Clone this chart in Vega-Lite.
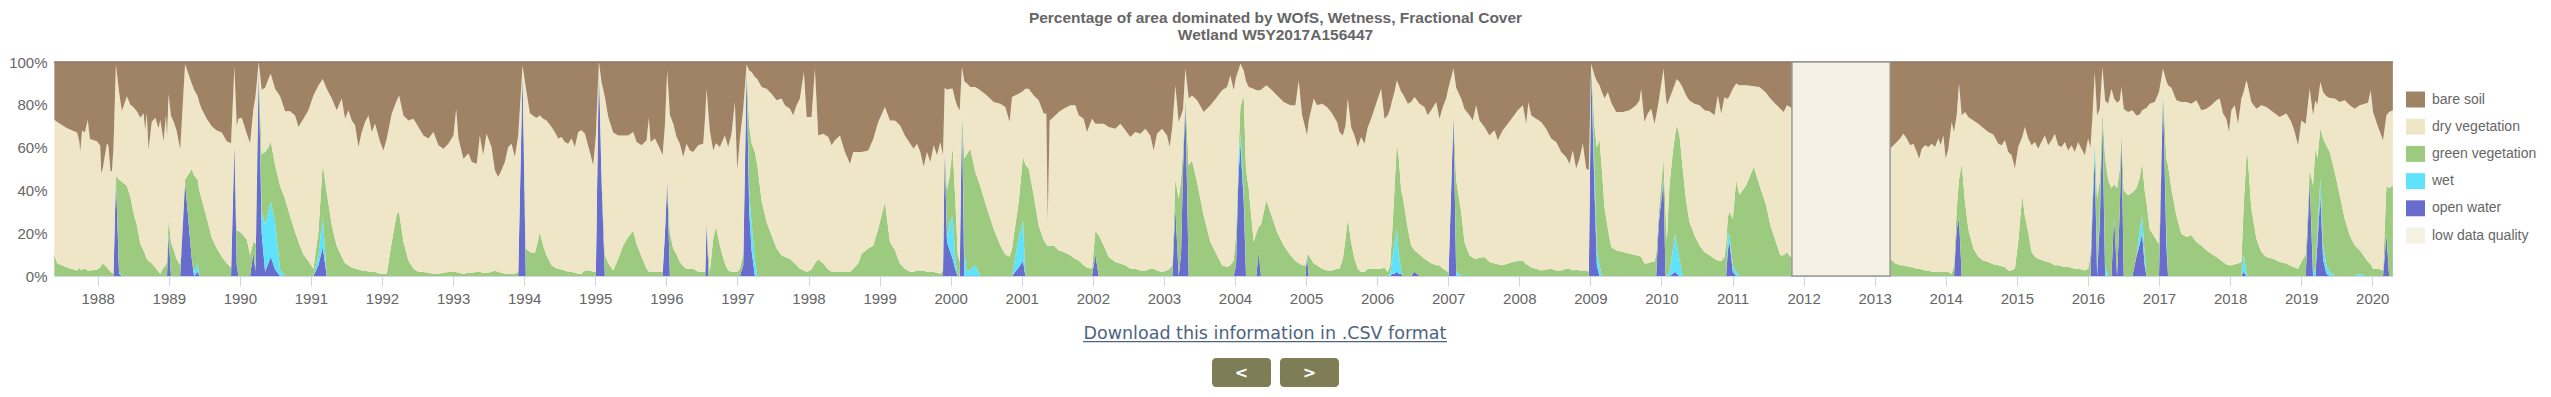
{
"$schema":"https://vega.github.io/schema/vega-lite/v6.json",
"width":2339,"height":214,
"autosize":{"type":"none"},
"padding":{"left":54,"top":62,"right":158,"bottom":121},
"background":"white",
"config":{"view":{"stroke":null},"font":"Liberation Sans",
"axis":{"title":null,"grid":false,"labelFontSize":15,"labelColor":"#666666","labelFont":"Liberation Sans"},
"axisX":{"tickSize":10,"tickColor":"#ccd6eb","domainColor":"#ccd6eb","labelPadding":5,"zindex":1,"labelFlush":false,"labelOverlap":false,"format":"d"},
"axisY":{"domain":false,"ticks":false,"labelPadding":7,"labelExpr":"datum.value + '%'"}},
"title":{"text":["Percentage of area dominated by WOfS, Wetness, Fractional Cover","Wetland W5Y2017A156447"],"fontSize":15.5,"fontWeight":"bold","color":"#666666","font":"Liberation Sans","anchor":"middle","dx":52,"offset":12,"lineHeight":16.5},
"layer":[
{"data":{"values":[
{"t":1987.39,"1ow":0,"2wt":0,"3gv":10,"4dv":63,"5bs":27},
{"t":1987.43,"1ow":0,"2wt":0,"3gv":6,"4dv":66,"5bs":28},
{"t":1987.57,"1ow":0,"2wt":0,"3gv":4,"4dv":65,"5bs":31},
{"t":1987.71,"1ow":0,"2wt":0,"3gv":2.6,"4dv":64.4,"5bs":33},
{"t":1987.74,"1ow":0,"2wt":0,"3gv":4,"4dv":59,"5bs":37},
{"t":1987.754,"1ow":0,"2wt":0,"3gv":3,"4dv":55,"5bs":42},
{"t":1987.78,"1ow":0,"2wt":0,"3gv":3,"4dv":65,"5bs":32},
{"t":1987.82,"1ow":0,"2wt":0,"3gv":3.4,"4dv":63.6,"5bs":33},
{"t":1987.86,"1ow":0,"2wt":0,"3gv":2.6,"4dv":70.4,"5bs":27},
{"t":1987.89,"1ow":0,"2wt":0,"3gv":2.6,"4dv":61.4,"5bs":36},
{"t":1987.99,"1ow":0,"2wt":0,"3gv":3,"4dv":60,"5bs":37},
{"t":1988.035,"1ow":0,"2wt":0,"3gv":4,"4dv":57,"5bs":39},
{"t":1988.05,"1ow":0,"2wt":0,"3gv":5,"4dv":43,"5bs":52},
{"t":1988.07,"1ow":0,"2wt":0,"3gv":5.8,"4dv":44.2,"5bs":50},
{"t":1988.13,"1ow":0,"2wt":0,"3gv":4,"4dv":58,"5bs":38},
{"t":1988.15,"1ow":0,"2wt":0,"3gv":3,"4dv":58,"5bs":39},
{"t":1988.18,"1ow":0,"2wt":0,"3gv":2,"4dv":47,"5bs":51},
{"t":1988.2,"1ow":0,"2wt":0,"3gv":1.5,"4dv":47.5,"5bs":51},
{"t":1988.222,"1ow":0,"2wt":0,"3gv":1,"4dv":59,"5bs":40},
{"t":1988.256,"1ow":46,"2wt":1,"3gv":0,"4dv":52,"5bs":1},
{"t":1988.3,"1ow":1,"2wt":1,"3gv":43,"4dv":41,"5bs":14},
{"t":1988.34,"1ow":0,"2wt":0,"3gv":44,"4dv":33,"5bs":23},
{"t":1988.41,"1ow":0,"2wt":0,"3gv":42,"4dv":42,"5bs":16},
{"t":1988.46,"1ow":0,"2wt":0,"3gv":37,"4dv":43,"5bs":20},
{"t":1988.5,"1ow":0,"2wt":0,"3gv":30,"4dv":49,"5bs":21},
{"t":1988.55,"1ow":0,"2wt":0,"3gv":24,"4dv":53,"5bs":23},
{"t":1988.6,"1ow":0,"2wt":0,"3gv":15,"4dv":59,"5bs":26},
{"t":1988.645,"1ow":0,"2wt":0,"3gv":12,"4dv":64,"5bs":24},
{"t":1988.668,"1ow":0,"2wt":0,"3gv":10,"4dv":58,"5bs":32},
{"t":1988.69,"1ow":0,"2wt":0,"3gv":8,"4dv":68,"5bs":24},
{"t":1988.715,"1ow":0,"2wt":0,"3gv":7,"4dv":52,"5bs":41},
{"t":1988.76,"1ow":0,"2wt":0,"3gv":6,"4dv":66,"5bs":28},
{"t":1988.81,"1ow":0,"2wt":0,"3gv":4,"4dv":70,"5bs":26},
{"t":1988.856,"1ow":0,"2wt":0,"3gv":2,"4dv":67,"5bs":31},
{"t":1988.88,"1ow":0,"2wt":0,"3gv":1,"4dv":72,"5bs":27},
{"t":1988.926,"1ow":0,"2wt":0,"3gv":4,"4dv":59,"5bs":37},
{"t":1988.96,"1ow":0,"2wt":0,"3gv":5,"4dv":70,"5bs":25},
{"t":1988.975,"1ow":0,"2wt":0,"3gv":8,"4dv":57,"5bs":35},
{"t":1988.997,"1ow":19,"2wt":1,"3gv":7,"4dv":58,"5bs":15},
{"t":1989.03,"1ow":0,"2wt":0,"3gv":16,"4dv":59,"5bs":25},
{"t":1989.07,"1ow":0,"2wt":0,"3gv":12,"4dv":60,"5bs":28},
{"t":1989.11,"1ow":0,"2wt":0,"3gv":8,"4dv":60,"5bs":32},
{"t":1989.16,"1ow":0,"2wt":0,"3gv":5,"4dv":54,"5bs":41},
{"t":1989.229,"1ow":44,"2wt":0,"3gv":1,"4dv":54,"5bs":1},
{"t":1989.323,"1ow":8,"2wt":0,"3gv":42,"4dv":40,"5bs":10},
{"t":1989.356,"1ow":0,"2wt":2,"3gv":45,"4dv":40,"5bs":13},
{"t":1989.407,"1ow":2,"2wt":4,"3gv":39,"4dv":39,"5bs":16},
{"t":1989.43,"1ow":0,"2wt":0,"3gv":40,"4dv":41,"5bs":19},
{"t":1989.463,"1ow":0,"2wt":0,"3gv":36,"4dv":42,"5bs":22},
{"t":1989.534,"1ow":0,"2wt":0,"3gv":27,"4dv":46.5,"5bs":26.5},
{"t":1989.604,"1ow":0,"2wt":0,"3gv":18,"4dv":52,"5bs":30},
{"t":1989.674,"1ow":0,"2wt":0,"3gv":13,"4dv":55,"5bs":32},
{"t":1989.745,"1ow":0,"2wt":0,"3gv":9,"4dv":58,"5bs":33},
{"t":1989.815,"1ow":0,"2wt":0,"3gv":6,"4dv":57,"5bs":37},
{"t":1989.876,"1ow":0,"2wt":0,"3gv":4,"4dv":58,"5bs":38},
{"t":1989.923,"1ow":62,"2wt":1,"3gv":1,"4dv":34,"5bs":2},
{"t":1989.956,"1ow":5,"2wt":0,"3gv":16,"4dv":49,"5bs":30},
{"t":1989.979,"1ow":0,"2wt":0,"3gv":21,"4dv":52.5,"5bs":26.5},
{"t":1990.026,"1ow":0,"2wt":0,"3gv":20,"4dv":54,"5bs":26},
{"t":1990.097,"1ow":0,"2wt":0,"3gv":17,"4dv":49.5,"5bs":33.5},
{"t":1990.144,"1ow":0,"2wt":0,"3gv":9.7,"4dv":52.3,"5bs":38},
{"t":1990.19,"1ow":11,"2wt":0,"3gv":5,"4dv":62,"5bs":22},
{"t":1990.22,"1ow":2,"2wt":0,"3gv":13,"4dv":69,"5bs":16},
{"t":1990.265,"1ow":97,"2wt":1,"3gv":0,"4dv":2,"5bs":0},
{"t":1990.307,"1ow":20,"2wt":10,"3gv":27,"4dv":30,"5bs":13},
{"t":1990.355,"1ow":2,"2wt":22,"3gv":34,"4dv":30,"5bs":12},
{"t":1990.401,"1ow":6,"2wt":24,"3gv":30,"4dv":32,"5bs":8},
{"t":1990.434,"1ow":9,"2wt":26,"3gv":28,"4dv":31.5,"5bs":5.5},
{"t":1990.495,"1ow":3,"2wt":22,"3gv":27,"4dv":35.5,"5bs":12.5},
{"t":1990.566,"1ow":0,"2wt":3,"3gv":39,"4dv":42,"5bs":16},
{"t":1990.636,"1ow":0,"2wt":0,"3gv":36,"4dv":41,"5bs":23},
{"t":1990.706,"1ow":0,"2wt":0,"3gv":28,"4dv":49,"5bs":23},
{"t":1990.777,"1ow":0,"2wt":0,"3gv":20.6,"4dv":54.4,"5bs":25},
{"t":1990.824,"1ow":0,"2wt":0,"3gv":16,"4dv":53.6,"5bs":30.4},
{"t":1990.894,"1ow":0,"2wt":0,"3gv":10,"4dv":63.5,"5bs":26.5},
{"t":1990.964,"1ow":0,"2wt":0,"3gv":7,"4dv":70.4,"5bs":22.6},
{"t":1991.035,"1ow":0,"2wt":0,"3gv":3.4,"4dv":81,"5bs":15.6},
{"t":1991.105,"1ow":5,"2wt":5,"3gv":10.6,"4dv":68.4,"5bs":11},
{"t":1991.166,"1ow":13.6,"2wt":14,"3gv":24.9,"4dv":39.5,"5bs":8},
{"t":1991.222,"1ow":0,"2wt":0,"3gv":39,"4dv":48.5,"5bs":12.5},
{"t":1991.293,"1ow":0,"2wt":0,"3gv":23.7,"4dv":59.3,"5bs":17},
{"t":1991.363,"1ow":0,"2wt":0,"3gv":14,"4dv":63.4,"5bs":22.6},
{"t":1991.433,"1ow":0,"2wt":0,"3gv":9,"4dv":74,"5bs":17},
{"t":1991.48,"1ow":0,"2wt":0,"3gv":6,"4dv":67.5,"5bs":26.5},
{"t":1991.527,"1ow":0,"2wt":0,"3gv":5,"4dv":72.4,"5bs":22.6},
{"t":1991.574,"1ow":0,"2wt":0,"3gv":4,"4dv":68.7,"5bs":27.3},
{"t":1991.621,"1ow":0,"2wt":0,"3gv":3.4,"4dv":67,"5bs":29.6},
{"t":1991.668,"1ow":0,"2wt":0,"3gv":3,"4dv":57.3,"5bs":39.7},
{"t":1991.715,"1ow":0,"2wt":0,"3gv":2.6,"4dv":64.7,"5bs":32.7},
{"t":1991.762,"1ow":0,"2wt":0,"3gv":2.6,"4dv":69.4,"5bs":28},
{"t":1991.809,"1ow":0,"2wt":0,"3gv":2,"4dv":73,"5bs":25},
{"t":1991.856,"1ow":0,"2wt":0,"3gv":1.9,"4dv":65.4,"5bs":32.7},
{"t":1991.902,"1ow":0,"2wt":0,"3gv":1.9,"4dv":69.3,"5bs":28.8},
{"t":1991.973,"1ow":0,"2wt":0,"3gv":1.1,"4dv":61.5,"5bs":37.4},
{"t":1992.02,"1ow":0,"2wt":0,"3gv":1.1,"4dv":57.6,"5bs":41.3},
{"t":1992.067,"1ow":0,"2wt":0,"3gv":1.1,"4dv":63.1,"5bs":35.8},
{"t":1992.137,"1ow":0,"2wt":0,"3gv":16,"4dv":59.9,"5bs":24.1},
{"t":1992.207,"1ow":0,"2wt":0,"3gv":29,"4dv":53,"5bs":18},
{"t":1992.24,"1ow":0,"2wt":0,"3gv":30,"4dv":54.4,"5bs":15.6},
{"t":1992.301,"1ow":0,"2wt":0,"3gv":16,"4dv":59,"5bs":25},
{"t":1992.371,"1ow":0,"2wt":0,"3gv":7.3,"4dv":65.4,"5bs":27.3},
{"t":1992.442,"1ow":0,"2wt":0,"3gv":3.4,"4dv":70.1,"5bs":26.5},
{"t":1992.512,"1ow":0,"2wt":0,"3gv":2,"4dv":67.6,"5bs":30.4},
{"t":1992.583,"1ow":0,"2wt":0,"3gv":1.9,"4dv":63.8,"5bs":34.3},
{"t":1992.653,"1ow":0,"2wt":0,"3gv":1.5,"4dv":62.7,"5bs":35.8},
{"t":1992.723,"1ow":0,"2wt":0,"3gv":1.1,"4dv":66.2,"5bs":32.7},
{"t":1992.794,"1ow":0,"2wt":0,"3gv":1.1,"4dv":60,"5bs":38.9},
{"t":1992.864,"1ow":0,"2wt":0,"3gv":1.5,"4dv":58,"5bs":40.5},
{"t":1992.934,"1ow":0,"2wt":0,"3gv":1.9,"4dv":59.9,"5bs":38.2},
{"t":1993.005,"1ow":0,"2wt":0,"3gv":1.9,"4dv":63.8,"5bs":34.3},
{"t":1993.043,"1ow":0,"2wt":0,"3gv":1.9,"4dv":76.1,"5bs":22},
{"t":1993.075,"1ow":0,"2wt":0,"3gv":1.5,"4dv":62.7,"5bs":35.8},
{"t":1993.145,"1ow":0,"2wt":0,"3gv":1.1,"4dv":53.7,"5bs":45.2},
{"t":1993.216,"1ow":0,"2wt":0,"3gv":1.5,"4dv":55.7,"5bs":42.8},
{"t":1993.263,"1ow":0,"2wt":0,"3gv":1.5,"4dv":51.8,"5bs":46.7},
{"t":1993.333,"1ow":0,"2wt":0,"3gv":1.9,"4dv":50.6,"5bs":47.5},
{"t":1993.376,"1ow":0,"2wt":0,"3gv":1.9,"4dv":63.8,"5bs":34.3},
{"t":1993.423,"1ow":0,"2wt":0,"3gv":1.5,"4dv":54.9,"5bs":43.6},
{"t":1993.47,"1ow":0,"2wt":0,"3gv":1.5,"4dv":65,"5bs":33.5},
{"t":1993.54,"1ow":0,"2wt":0,"3gv":1.9,"4dv":58.4,"5bs":39.7},
{"t":1993.587,"1ow":0,"2wt":0,"3gv":2.6,"4dv":46.8,"5bs":50.6},
{"t":1993.634,"1ow":0,"2wt":0,"3gv":1.9,"4dv":44.4,"5bs":53.7},
{"t":1993.681,"1ow":0,"2wt":0,"3gv":1.5,"4dv":47.9,"5bs":50.6},
{"t":1993.728,"1ow":0,"2wt":0,"3gv":1.1,"4dv":52.2,"5bs":46.7},
{"t":1993.775,"1ow":0,"2wt":0,"3gv":1.1,"4dv":59.2,"5bs":39.7},
{"t":1993.822,"1ow":0,"2wt":0,"3gv":1.1,"4dv":60.7,"5bs":38.2},
{"t":1993.869,"1ow":0,"2wt":0,"3gv":1.1,"4dv":54.5,"5bs":44.4},
{"t":1993.916,"1ow":0,"2wt":0,"3gv":1.9,"4dv":63.8,"5bs":34.3},
{"t":1993.977,"1ow":95,"2wt":1,"3gv":1,"4dv":1.4,"5bs":1.6},
{"t":1994.023,"1ow":0,"2wt":0,"3gv":12.8,"4dv":75.2,"5bs":12},
{"t":1994.08,"1ow":0,"2wt":0,"3gv":11.2,"4dv":64.8,"5bs":24},
{"t":1994.15,"1ow":0,"2wt":0,"3gv":10.6,"4dv":63.7,"5bs":25.7},
{"t":1994.183,"1ow":0,"2wt":0,"3gv":15,"4dv":59,"5bs":26},
{"t":1994.22,"1ow":0,"2wt":0,"3gv":20.6,"4dv":54.5,"5bs":24.9},
{"t":1994.267,"1ow":0,"2wt":0,"3gv":14.3,"4dv":59.2,"5bs":26.5},
{"t":1994.314,"1ow":0,"2wt":0,"3gv":9.7,"4dv":63,"5bs":27.3},
{"t":1994.385,"1ow":0,"2wt":0,"3gv":5,"4dv":64.6,"5bs":30.4},
{"t":1994.431,"1ow":0,"2wt":0,"3gv":4,"4dv":63.3,"5bs":32.7},
{"t":1994.478,"1ow":0,"2wt":0,"3gv":3.4,"4dv":60.8,"5bs":35.8},
{"t":1994.525,"1ow":0,"2wt":0,"3gv":3,"4dv":62,"5bs":35},
{"t":1994.572,"1ow":0,"2wt":0,"3gv":2.6,"4dv":60,"5bs":37.4},
{"t":1994.619,"1ow":0,"2wt":0,"3gv":2,"4dv":59.8,"5bs":38.2},
{"t":1994.666,"1ow":0,"2wt":0,"3gv":1.9,"4dv":62.3,"5bs":35.8},
{"t":1994.713,"1ow":0,"2wt":0,"3gv":1.5,"4dv":58.8,"5bs":39.7},
{"t":1994.76,"1ow":0,"2wt":0,"3gv":1.1,"4dv":66.2,"5bs":32.7},
{"t":1994.807,"1ow":0,"2wt":0,"3gv":1.1,"4dv":67,"5bs":31.9},
{"t":1994.854,"1ow":0,"2wt":0,"3gv":2.6,"4dv":63.9,"5bs":33.5},
{"t":1994.924,"1ow":0,"2wt":0,"3gv":2.6,"4dv":55.3,"5bs":42.1},
{"t":1994.971,"1ow":0,"2wt":0,"3gv":1.9,"4dv":49.8,"5bs":48.3},
{"t":1995.008,"1ow":0,"2wt":0,"3gv":2,"4dv":63.7,"5bs":34.3},
{"t":1995.051,"1ow":99,"2wt":0,"3gv":1,"4dv":0,"5bs":0},
{"t":1995.088,"1ow":45,"2wt":0,"3gv":5,"4dv":40.6,"5bs":9.4},
{"t":1995.135,"1ow":0,"2wt":0,"3gv":10,"4dv":73.6,"5bs":16.4},
{"t":1995.182,"1ow":0,"2wt":0,"3gv":6,"4dv":68.3,"5bs":25.7},
{"t":1995.252,"1ow":0,"2wt":0,"3gv":2.6,"4dv":64.4,"5bs":33},
{"t":1995.323,"1ow":0,"2wt":0,"3gv":8.1,"4dv":57.6,"5bs":34.3},
{"t":1995.393,"1ow":0,"2wt":0,"3gv":14.3,"4dv":51.4,"5bs":34.3},
{"t":1995.463,"1ow":0,"2wt":0,"3gv":18.2,"4dv":47.5,"5bs":34.3},
{"t":1995.534,"1ow":0,"2wt":0,"3gv":21,"4dv":46.3,"5bs":32.7},
{"t":1995.581,"1ow":0,"2wt":0,"3gv":15,"4dv":47.6,"5bs":37.4},
{"t":1995.652,"1ow":0,"2wt":0,"3gv":9,"4dv":52.1,"5bs":38.9},
{"t":1995.722,"1ow":0,"2wt":0,"3gv":3.4,"4dv":60,"5bs":36.6},
{"t":1995.754,"1ow":0,"2wt":0,"3gv":2,"4dv":72,"5bs":26},
{"t":1995.778,"1ow":0,"2wt":0,"3gv":1.9,"4dv":60.7,"5bs":37.4},
{"t":1995.839,"1ow":0,"2wt":0,"3gv":1.9,"4dv":62.3,"5bs":35.8},
{"t":1995.909,"1ow":0,"2wt":0,"3gv":1.9,"4dv":57.6,"5bs":40.5},
{"t":1995.947,"1ow":0,"2wt":0,"3gv":1.9,"4dv":54.5,"5bs":43.6},
{"t":1995.98,"1ow":20,"2wt":0,"3gv":0,"4dv":50.4,"5bs":29.6},
{"t":1996.012,"1ow":44,"2wt":1,"3gv":1,"4dv":50,"5bs":4},
{"t":1996.05,"1ow":0,"2wt":0,"3gv":20,"4dv":55.1,"5bs":24.9},
{"t":1996.097,"1ow":0,"2wt":0,"3gv":12.8,"4dv":58.4,"5bs":28.8},
{"t":1996.144,"1ow":0,"2wt":0,"3gv":10,"4dv":55,"5bs":35},
{"t":1996.19,"1ow":0,"2wt":0,"3gv":6.5,"4dv":55.3,"5bs":38.2},
{"t":1996.237,"1ow":0,"2wt":0,"3gv":4.5,"4dv":51.1,"5bs":44.4},
{"t":1996.284,"1ow":0,"2wt":0,"3gv":3.4,"4dv":58.4,"5bs":38.2},
{"t":1996.331,"1ow":0,"2wt":0,"3gv":3.4,"4dv":55.3,"5bs":41.3},
{"t":1996.378,"1ow":0,"2wt":0,"3gv":3.4,"4dv":54.5,"5bs":42.1},
{"t":1996.448,"1ow":0,"2wt":0,"3gv":2,"4dv":59.1,"5bs":38.9},
{"t":1996.519,"1ow":0,"2wt":0,"3gv":2,"4dv":59.8,"5bs":38.2},
{"t":1996.547,"1ow":0,"2wt":0,"3gv":2,"4dv":73,"5bs":25},
{"t":1996.566,"1ow":25,"2wt":0,"3gv":0,"4dv":62.5,"5bs":12.5},
{"t":1996.594,"1ow":0,"2wt":0,"3gv":10,"4dv":65,"5bs":25},
{"t":1996.612,"1ow":0,"2wt":0,"3gv":2,"4dv":66,"5bs":32},
{"t":1996.659,"1ow":0,"2wt":0,"3gv":17.4,"4dv":41.3,"5bs":41.3},
{"t":1996.697,"1ow":0,"2wt":0,"3gv":23,"4dv":39,"5bs":38},
{"t":1996.753,"1ow":0,"2wt":0,"3gv":14.3,"4dv":46,"5bs":39.7},
{"t":1996.823,"1ow":0,"2wt":0,"3gv":5.8,"4dv":59.9,"5bs":34.3},
{"t":1996.87,"1ow":0,"2wt":0,"3gv":2.6,"4dv":57.7,"5bs":39.7},
{"t":1996.917,"1ow":0,"2wt":0,"3gv":2,"4dv":64.5,"5bs":33.5},
{"t":1996.964,"1ow":0,"2wt":0,"3gv":1.9,"4dv":79.4,"5bs":18.7},
{"t":1996.997,"1ow":0,"2wt":0,"3gv":1.9,"4dv":47.5,"5bs":50.6},
{"t":1997.035,"1ow":0,"2wt":0,"3gv":3.4,"4dv":60.8,"5bs":35.8},
{"t":1997.082,"1ow":5,"2wt":0,"3gv":5,"4dv":68.2,"5bs":21.8},
{"t":1997.129,"1ow":96,"2wt":1,"3gv":1,"4dv":0.8,"5bs":1.2},
{"t":1997.166,"1ow":30,"2wt":10,"3gv":30,"4dv":26,"5bs":4},
{"t":1997.199,"1ow":12,"2wt":13,"3gv":37,"4dv":33.3,"5bs":4.7},
{"t":1997.246,"1ow":0,"2wt":8,"3gv":50,"4dv":35,"5bs":7},
{"t":1997.279,"1ow":0,"2wt":0,"3gv":52,"4dv":40,"5bs":8},
{"t":1997.34,"1ow":0,"2wt":0,"3gv":35,"4dv":53.3,"5bs":11.7},
{"t":1997.41,"1ow":0,"2wt":0,"3gv":25.2,"4dv":62.3,"5bs":12.5},
{"t":1997.48,"1ow":0,"2wt":0,"3gv":19,"4dv":66.2,"5bs":14.8},
{"t":1997.551,"1ow":0,"2wt":0,"3gv":12.8,"4dv":69.3,"5bs":17.9},
{"t":1997.621,"1ow":0,"2wt":0,"3gv":9.7,"4dv":73.2,"5bs":17.1},
{"t":1997.668,"1ow":0,"2wt":0,"3gv":8.9,"4dv":70.9,"5bs":20.2},
{"t":1997.738,"1ow":0,"2wt":0,"3gv":8.1,"4dv":70.1,"5bs":21.8},
{"t":1997.785,"1ow":0,"2wt":0,"3gv":6.5,"4dv":68.6,"5bs":24.9},
{"t":1997.832,"1ow":0,"2wt":0,"3gv":5,"4dv":74.8,"5bs":20.2},
{"t":1997.879,"1ow":0,"2wt":0,"3gv":3.4,"4dv":79.5,"5bs":17.1},
{"t":1997.935,"1ow":0,"2wt":0,"3gv":2.6,"4dv":92.7,"5bs":4.7},
{"t":1997.973,"1ow":0,"2wt":0,"3gv":1.9,"4dv":72.4,"5bs":25.7},
{"t":1998.043,"1ow":0,"2wt":0,"3gv":3,"4dv":71.3,"5bs":25.7},
{"t":1998.09,"1ow":0,"2wt":0,"3gv":6,"4dv":90.9,"5bs":3.1},
{"t":1998.137,"1ow":0,"2wt":0,"3gv":7.8,"4dv":57.9,"5bs":34.3},
{"t":1998.207,"1ow":0,"2wt":0,"3gv":5.8,"4dv":60.7,"5bs":33.5},
{"t":1998.278,"1ow":0,"2wt":0,"3gv":3,"4dv":62,"5bs":35},
{"t":1998.325,"1ow":0,"2wt":0,"3gv":2,"4dv":59.1,"5bs":38.9},
{"t":1998.372,"1ow":0,"2wt":0,"3gv":1.9,"4dv":61.5,"5bs":36.6},
{"t":1998.442,"1ow":0,"2wt":0,"3gv":1.9,"4dv":63.8,"5bs":34.3},
{"t":1998.512,"1ow":0,"2wt":0,"3gv":1.9,"4dv":56,"5bs":42.1},
{"t":1998.583,"1ow":0,"2wt":0,"3gv":1.9,"4dv":50.6,"5bs":47.5},
{"t":1998.63,"1ow":0,"2wt":0,"3gv":3.4,"4dv":54.5,"5bs":42.1},
{"t":1998.7,"1ow":0,"2wt":0,"3gv":6,"4dv":51.9,"5bs":42.1},
{"t":1998.747,"1ow":0,"2wt":0,"3gv":10.4,"4dv":47.5,"5bs":42.1},
{"t":1998.841,"1ow":0,"2wt":0,"3gv":12.8,"4dv":45.9,"5bs":41.3},
{"t":1998.911,"1ow":0,"2wt":0,"3gv":14.3,"4dv":49.7,"5bs":36},
{"t":1998.981,"1ow":0,"2wt":0,"3gv":22.1,"4dv":49.9,"5bs":28},
{"t":1999.075,"1ow":0,"2wt":0,"3gv":34.6,"4dv":44.4,"5bs":21},
{"t":1999.146,"1ow":0,"2wt":0,"3gv":15.9,"4dv":56.8,"5bs":27.3},
{"t":1999.216,"1ow":0,"2wt":0,"3gv":12,"4dv":60.7,"5bs":27.3},
{"t":1999.286,"1ow":0,"2wt":0,"3gv":5.8,"4dv":64.6,"5bs":29.6},
{"t":1999.356,"1ow":0,"2wt":0,"3gv":3.4,"4dv":62.3,"5bs":34.3},
{"t":1999.432,"1ow":0,"2wt":0,"3gv":1.9,"4dv":59.9,"5bs":38.2},
{"t":1999.479,"1ow":0,"2wt":0,"3gv":2,"4dv":57.5,"5bs":40.5},
{"t":1999.526,"1ow":0,"2wt":0,"3gv":2.6,"4dv":59.2,"5bs":38.2},
{"t":1999.573,"1ow":0,"2wt":0,"3gv":2.6,"4dv":55.3,"5bs":42.1},
{"t":1999.62,"1ow":0,"2wt":0,"3gv":2.6,"4dv":48.4,"5bs":49},
{"t":1999.667,"1ow":0,"2wt":0,"3gv":1.9,"4dv":56,"5bs":42.1},
{"t":1999.714,"1ow":0,"2wt":0,"3gv":2,"4dv":51.3,"5bs":46.7},
{"t":1999.761,"1ow":0,"2wt":0,"3gv":1.9,"4dv":59.2,"5bs":38.9},
{"t":1999.808,"1ow":0,"2wt":0,"3gv":1.5,"4dv":54.9,"5bs":43.6},
{"t":1999.855,"1ow":0,"2wt":0,"3gv":1.1,"4dv":61.5,"5bs":37.4},
{"t":1999.892,"1ow":0,"2wt":0,"3gv":2.6,"4dv":53.8,"5bs":43.6},
{"t":1999.916,"1ow":59,"2wt":1,"3gv":1,"4dv":27,"5bs":12},
{"t":1999.948,"1ow":16,"2wt":2,"3gv":22,"4dv":47,"5bs":13},
{"t":1999.986,"1ow":12,"2wt":13,"3gv":22,"4dv":40.5,"5bs":12.5},
{"t":2000.028,"1ow":8,"2wt":20,"3gv":32,"4dv":27.5,"5bs":12.5},
{"t":2000.066,"1ow":3,"2wt":5,"3gv":27,"4dv":47,"5bs":18},
{"t":2000.099,"1ow":0,"2wt":0,"3gv":10,"4dv":69,"5bs":21},
{"t":2000.127,"1ow":0,"2wt":0,"3gv":6.5,"4dv":70.9,"5bs":22.6},
{"t":2000.159,"1ow":76,"2wt":1,"3gv":1,"4dv":19.7,"5bs":2.3},
{"t":2000.192,"1ow":0,"2wt":10,"3gv":45,"4dv":36,"5bs":9},
{"t":2000.23,"1ow":0,"2wt":2,"3gv":55,"4dv":33,"5bs":10},
{"t":2000.277,"1ow":0,"2wt":3,"3gv":56.5,"4dv":28.8,"5bs":11.7},
{"t":2000.347,"1ow":0,"2wt":5,"3gv":43.6,"4dv":39.7,"5bs":11.7},
{"t":2000.417,"1ow":0,"2wt":0,"3gv":42,"4dv":44.8,"5bs":13.2},
{"t":2000.511,"1ow":0,"2wt":0,"3gv":31.5,"4dv":52.9,"5bs":15.6},
{"t":2000.605,"1ow":0,"2wt":0,"3gv":22.1,"4dv":59.2,"5bs":18.7},
{"t":2000.699,"1ow":0,"2wt":0,"3gv":14.3,"4dv":66.2,"5bs":19.5},
{"t":2000.769,"1ow":0,"2wt":0,"3gv":10,"4dv":69,"5bs":21},
{"t":2000.83,"1ow":0,"2wt":0,"3gv":9,"4dv":63,"5bs":28},
{"t":2000.863,"1ow":0,"2wt":0,"3gv":12.8,"4dv":70.8,"5bs":16.4},
{"t":2000.957,"1ow":4,"2wt":14,"3gv":16.6,"4dv":50.6,"5bs":14.8},
{"t":2001.018,"1ow":7,"2wt":19,"3gv":30,"4dv":30.5,"5bs":13.5},
{"t":2001.051,"1ow":0,"2wt":0,"3gv":52,"4dv":35.5,"5bs":12.5},
{"t":2001.098,"1ow":0,"2wt":0,"3gv":50.2,"4dv":37.3,"5bs":12.5},
{"t":2001.168,"1ow":0,"2wt":0,"3gv":37.7,"4dv":46.7,"5bs":15.6},
{"t":2001.238,"1ow":0,"2wt":0,"3gv":23.7,"4dv":58.4,"5bs":17.9},
{"t":2001.309,"1ow":0,"2wt":0,"3gv":16.7,"4dv":59.2,"5bs":24.1},
{"t":2001.346,"1ow":0,"2wt":0,"3gv":15,"4dv":60.9,"5bs":24.1},
{"t":2001.365,"1ow":0,"2wt":0,"3gv":14,"4dv":11.2,"5bs":74.8},
{"t":2001.393,"1ow":0,"2wt":0,"3gv":14,"4dv":58.7,"5bs":27.3},
{"t":2001.449,"1ow":0,"2wt":0,"3gv":14.3,"4dv":60,"5bs":25.7},
{"t":2001.52,"1ow":0,"2wt":0,"3gv":12,"4dv":64.6,"5bs":23.4},
{"t":2001.59,"1ow":0,"2wt":0,"3gv":11.2,"4dv":67,"5bs":21.8},
{"t":2001.684,"1ow":0,"2wt":0,"3gv":9.7,"4dv":70.1,"5bs":20.2},
{"t":2001.754,"1ow":0,"2wt":0,"3gv":8,"4dv":71.8,"5bs":20.2},
{"t":2001.801,"1ow":0,"2wt":0,"3gv":7.3,"4dv":67.8,"5bs":24.9},
{"t":2001.871,"1ow":0,"2wt":0,"3gv":5,"4dv":68.5,"5bs":26.5},
{"t":2001.918,"1ow":0,"2wt":0,"3gv":4,"4dv":63.3,"5bs":32.7},
{"t":2001.989,"1ow":0,"2wt":0,"3gv":3.4,"4dv":70.1,"5bs":26.5},
{"t":2002.036,"1ow":10,"2wt":0,"3gv":11,"4dv":50.2,"5bs":28.8},
{"t":2002.083,"1ow":0,"2wt":0,"3gv":19,"4dv":52.2,"5bs":28.8},
{"t":2002.153,"1ow":0,"2wt":0,"3gv":14.3,"4dv":56.9,"5bs":28.8},
{"t":2002.223,"1ow":0,"2wt":0,"3gv":8.9,"4dv":60.7,"5bs":30.4},
{"t":2002.317,"1ow":0,"2wt":0,"3gv":6.5,"4dv":62.3,"5bs":31.2},
{"t":2002.387,"1ow":0,"2wt":0,"3gv":5.8,"4dv":65.4,"5bs":28.8},
{"t":2002.458,"1ow":0,"2wt":0,"3gv":5,"4dv":63.1,"5bs":31.9},
{"t":2002.528,"1ow":0,"2wt":0,"3gv":3.4,"4dv":61.6,"5bs":35},
{"t":2002.598,"1ow":0,"2wt":0,"3gv":3.4,"4dv":63.9,"5bs":32.7},
{"t":2002.669,"1ow":0,"2wt":0,"3gv":2.6,"4dv":63.9,"5bs":33.5},
{"t":2002.739,"1ow":0,"2wt":0,"3gv":2.6,"4dv":66.2,"5bs":31.2},
{"t":2002.809,"1ow":0,"2wt":0,"3gv":3.4,"4dv":62.3,"5bs":34.3},
{"t":2002.856,"1ow":0,"2wt":0,"3gv":3.4,"4dv":55.3,"5bs":41.3},
{"t":2002.903,"1ow":0,"2wt":0,"3gv":2.6,"4dv":63.9,"5bs":33.5},
{"t":2002.974,"1ow":0,"2wt":0,"3gv":1.9,"4dv":66.9,"5bs":31.2},
{"t":2003.044,"1ow":0,"2wt":0,"3gv":2.6,"4dv":63.1,"5bs":34.3},
{"t":2003.082,"1ow":0,"2wt":0,"3gv":3.4,"4dv":56.9,"5bs":39.7},
{"t":2003.119,"1ow":0,"2wt":0,"3gv":5,"4dv":65,"5bs":30},
{"t":2003.161,"1ow":31.5,"2wt":0.5,"3gv":13.5,"4dv":43.5,"5bs":11},
{"t":2003.208,"1ow":0,"2wt":0,"3gv":36,"4dv":36,"5bs":28},
{"t":2003.241,"1ow":10,"2wt":0,"3gv":35,"4dv":30,"5bs":25},
{"t":2003.27,"1ow":50,"2wt":0,"3gv":10,"4dv":18,"5bs":22},
{"t":2003.302,"1ow":81,"2wt":1,"3gv":1.6,"4dv":13.4,"5bs":3},
{"t":2003.349,"1ow":0,"2wt":0,"3gv":51.7,"4dv":31.2,"5bs":17.1},
{"t":2003.396,"1ow":0,"2wt":0,"3gv":54,"4dv":30.4,"5bs":15.6},
{"t":2003.466,"1ow":0,"2wt":0,"3gv":43.9,"4dv":38.2,"5bs":17.9},
{"t":2003.56,"1ow":0,"2wt":0,"3gv":28.3,"4dv":48.3,"5bs":23.4},
{"t":2003.654,"1ow":0,"2wt":0,"3gv":15.9,"4dv":63.9,"5bs":20.2},
{"t":2003.748,"1ow":0,"2wt":0,"3gv":9.7,"4dv":73.9,"5bs":16.4},
{"t":2003.818,"1ow":0,"2wt":0,"3gv":5,"4dv":81.8,"5bs":13.2},
{"t":2003.889,"1ow":0,"2wt":0,"3gv":4.2,"4dv":84.1,"5bs":11.7},
{"t":2003.935,"1ow":0,"2wt":0,"3gv":5,"4dv":88.8,"5bs":6.2},
{"t":2003.982,"1ow":0,"2wt":0,"3gv":7.3,"4dv":79.5,"5bs":13.2},
{"t":2004.015,"1ow":5,"2wt":0,"3gv":15,"4dv":73,"5bs":7},
{"t":2004.047,"1ow":45,"2wt":10,"3gv":0,"4dv":41,"5bs":4},
{"t":2004.076,"1ow":62,"2wt":4.5,"3gv":12.5,"4dv":20.2,"5bs":0.8},
{"t":2004.123,"1ow":35,"2wt":5,"3gv":44.4,"4dv":11.6,"5bs":4},
{"t":2004.155,"1ow":0,"2wt":0,"3gv":50,"4dv":41,"5bs":9},
{"t":2004.193,"1ow":0,"2wt":0,"3gv":40.8,"4dv":47.5,"5bs":11.7},
{"t":2004.263,"1ow":0,"2wt":0,"3gv":15.9,"4dv":71.6,"5bs":12.5},
{"t":2004.3,"1ow":0,"2wt":0,"3gv":20,"4dv":66.8,"5bs":13.2},
{"t":2004.333,"1ow":11,"2wt":0,"3gv":12,"4dv":63.8,"5bs":13.2},
{"t":2004.366,"1ow":0,"2wt":0,"3gv":24,"4dv":63,"5bs":13},
{"t":2004.441,"1ow":0,"2wt":0,"3gv":35.4,"4dv":53.7,"5bs":10.9},
{"t":2004.521,"1ow":0,"2wt":0,"3gv":27.6,"4dv":59.2,"5bs":13.2},
{"t":2004.592,"1ow":0,"2wt":0,"3gv":20.6,"4dv":63.8,"5bs":15.6},
{"t":2004.686,"1ow":0,"2wt":0,"3gv":14.3,"4dv":67,"5bs":18.7},
{"t":2004.78,"1ow":0,"2wt":0,"3gv":9.7,"4dv":70.1,"5bs":20.2},
{"t":2004.85,"1ow":0,"2wt":0,"3gv":7,"4dv":72.8,"5bs":20.2},
{"t":2004.897,"1ow":0,"2wt":0,"3gv":6,"4dv":85.4,"5bs":8.6},
{"t":2004.944,"1ow":0,"2wt":0,"3gv":5,"4dv":70.1,"5bs":24.9},
{"t":2004.991,"1ow":0,"2wt":0,"3gv":5,"4dv":64,"5bs":31},
{"t":2005.014,"1ow":9,"2wt":1,"3gv":0,"4dv":55.7,"5bs":34.3},
{"t":2005.038,"1ow":0,"2wt":0,"3gv":9.7,"4dv":63,"5bs":27.3},
{"t":2005.108,"1ow":0,"2wt":0,"3gv":5.8,"4dv":77.1,"5bs":17.1},
{"t":2005.155,"1ow":0,"2wt":0,"3gv":5,"4dv":74.8,"5bs":20.2},
{"t":2005.225,"1ow":0,"2wt":0,"3gv":3.4,"4dv":77.1,"5bs":19.5},
{"t":2005.295,"1ow":0,"2wt":0,"3gv":2.6,"4dv":76.4,"5bs":21},
{"t":2005.366,"1ow":0,"2wt":0,"3gv":2.6,"4dv":73.3,"5bs":24.1},
{"t":2005.436,"1ow":0,"2wt":0,"3gv":3.4,"4dv":68.6,"5bs":28},
{"t":2005.47,"1ow":0,"2wt":0,"3gv":3.4,"4dv":63.9,"5bs":32.7},
{"t":2005.517,"1ow":0,"2wt":0,"3gv":8,"4dv":57.7,"5bs":34.3},
{"t":2005.554,"1ow":0,"2wt":0,"3gv":17,"4dv":53,"5bs":30},
{"t":2005.587,"1ow":0,"2wt":0,"3gv":26.8,"4dv":56.2,"5bs":17},
{"t":2005.634,"1ow":0,"2wt":0,"3gv":15.9,"4dv":53.7,"5bs":30.4},
{"t":2005.681,"1ow":0,"2wt":0,"3gv":8.1,"4dv":57.6,"5bs":34.3},
{"t":2005.728,"1ow":0,"2wt":0,"3gv":3.4,"4dv":56.9,"5bs":39.7},
{"t":2005.775,"1ow":0,"2wt":0,"3gv":1.9,"4dv":63.1,"5bs":35},
{"t":2005.822,"1ow":0,"2wt":0,"3gv":1.9,"4dv":59.9,"5bs":38.2},
{"t":2005.869,"1ow":0,"2wt":0,"3gv":3.4,"4dv":66.2,"5bs":30.4},
{"t":2005.916,"1ow":0,"2wt":0,"3gv":3.4,"4dv":70.1,"5bs":26.5},
{"t":2005.986,"1ow":0,"2wt":0,"3gv":3.4,"4dv":77.1,"5bs":19.5},
{"t":2006.056,"1ow":0,"2wt":0,"3gv":3.4,"4dv":84.1,"5bs":12.5},
{"t":2006.103,"1ow":0,"2wt":0,"3gv":4,"4dv":69.5,"5bs":26.5},
{"t":2006.15,"1ow":0,"2wt":0,"3gv":1.9,"4dv":73.2,"5bs":24.9},
{"t":2006.183,"1ow":0,"2wt":1,"3gv":4,"4dv":73,"5bs":22},
{"t":2006.211,"1ow":1,"2wt":7,"3gv":12,"4dv":62,"5bs":18},
{"t":2006.244,"1ow":1,"2wt":14,"3gv":25.8,"4dv":45.2,"5bs":14},
{"t":2006.277,"1ow":2,"2wt":20,"3gv":40,"4dv":29.4,"5bs":8.6},
{"t":2006.305,"1ow":1,"2wt":9,"3gv":45,"4dv":34,"5bs":11},
{"t":2006.338,"1ow":1,"2wt":2,"3gv":37,"4dv":46,"5bs":14},
{"t":2006.361,"1ow":0,"2wt":0,"3gv":37,"4dv":48,"5bs":15},
{"t":2006.432,"1ow":0,"2wt":0,"3gv":22,"4dv":58.5,"5bs":19.5},
{"t":2006.478,"1ow":0,"2wt":0,"3gv":14.3,"4dv":67,"5bs":18.7},
{"t":2006.525,"1ow":2,"2wt":0,"3gv":10,"4dv":71.6,"5bs":16.4},
{"t":2006.596,"1ow":0,"2wt":0,"3gv":10,"4dv":70.5,"5bs":19.5},
{"t":2006.666,"1ow":0,"2wt":0,"3gv":8.1,"4dv":70.9,"5bs":21},
{"t":2006.713,"1ow":0,"2wt":0,"3gv":7,"4dv":68.1,"5bs":24.9},
{"t":2006.76,"1ow":0,"2wt":0,"3gv":6,"4dv":71.4,"5bs":22.6},
{"t":2006.83,"1ow":0,"2wt":0,"3gv":5,"4dv":76.3,"5bs":18.7},
{"t":2006.877,"1ow":0,"2wt":0,"3gv":5,"4dv":68.5,"5bs":26.5},
{"t":2006.924,"1ow":0,"2wt":0,"3gv":3.4,"4dv":75.6,"5bs":21},
{"t":2006.971,"1ow":0,"2wt":0,"3gv":2.6,"4dv":80.3,"5bs":17.1},
{"t":2007.004,"1ow":0,"2wt":0,"3gv":1.5,"4dv":86.5,"5bs":12},
{"t":2007.074,"1ow":75,"2wt":0,"3gv":1,"4dv":21,"5bs":3},
{"t":2007.112,"1ow":0,"2wt":2,"3gv":43,"4dv":43,"5bs":12},
{"t":2007.182,"1ow":0,"2wt":0,"3gv":29.9,"4dv":53,"5bs":17.1},
{"t":2007.229,"1ow":0,"2wt":0,"3gv":15.9,"4dv":62.1,"5bs":22},
{"t":2007.299,"1ow":0,"2wt":0,"3gv":9.7,"4dv":65.4,"5bs":24.9},
{"t":2007.346,"1ow":0,"2wt":0,"3gv":8.5,"4dv":64.2,"5bs":27.3},
{"t":2007.393,"1ow":0,"2wt":0,"3gv":8.1,"4dv":71.7,"5bs":20.2},
{"t":2007.44,"1ow":0,"2wt":0,"3gv":8.5,"4dv":64.2,"5bs":27.3},
{"t":2007.51,"1ow":0,"2wt":0,"3gv":8.9,"4dv":60.7,"5bs":30.4},
{"t":2007.58,"1ow":0,"2wt":0,"3gv":6.5,"4dv":59.2,"5bs":34.3},
{"t":2007.651,"1ow":0,"2wt":0,"3gv":5.8,"4dv":62.3,"5bs":31.9},
{"t":2007.698,"1ow":0,"2wt":0,"3gv":5.5,"4dv":57.9,"5bs":36.6},
{"t":2007.768,"1ow":0,"2wt":0,"3gv":5,"4dv":63.1,"5bs":31.9},
{"t":2007.839,"1ow":0,"2wt":0,"3gv":5.8,"4dv":65.4,"5bs":28.8},
{"t":2007.909,"1ow":0,"2wt":0,"3gv":6.5,"4dv":67.8,"5bs":25.7},
{"t":2007.979,"1ow":0,"2wt":0,"3gv":7,"4dv":70.4,"5bs":22.6},
{"t":2008.05,"1ow":0,"2wt":0,"3gv":7.3,"4dv":72.5,"5bs":20.2},
{"t":2008.097,"1ow":0,"2wt":0,"3gv":5.5,"4dv":65.7,"5bs":28.8},
{"t":2008.129,"1ow":0,"2wt":0,"3gv":5,"4dv":76.3,"5bs":18.7},
{"t":2008.167,"1ow":0,"2wt":0,"3gv":4,"4dv":71.1,"5bs":24.9},
{"t":2008.237,"1ow":0,"2wt":0,"3gv":3.4,"4dv":70.1,"5bs":26.5},
{"t":2008.308,"1ow":0,"2wt":0,"3gv":2.6,"4dv":69.4,"5bs":28},
{"t":2008.378,"1ow":0,"2wt":0,"3gv":3,"4dv":65.8,"5bs":31.2},
{"t":2008.448,"1ow":0,"2wt":0,"3gv":3.4,"4dv":60.8,"5bs":35.8},
{"t":2008.519,"1ow":0,"2wt":0,"3gv":2.6,"4dv":60,"5bs":37.4},
{"t":2008.589,"1ow":0,"2wt":0,"3gv":2.6,"4dv":55.3,"5bs":42.1},
{"t":2008.659,"1ow":0,"2wt":0,"3gv":3.4,"4dv":52.2,"5bs":44.4},
{"t":2008.706,"1ow":0,"2wt":0,"3gv":3.4,"4dv":49.1,"5bs":47.5},
{"t":2008.753,"1ow":0,"2wt":0,"3gv":2.6,"4dv":56.1,"5bs":41.3},
{"t":2008.8,"1ow":0,"2wt":0,"3gv":3,"4dv":47.2,"5bs":49.8},
{"t":2008.847,"1ow":0,"2wt":0,"3gv":2.6,"4dv":52.2,"5bs":45.2},
{"t":2008.894,"1ow":0,"2wt":0,"3gv":2.6,"4dv":59.2,"5bs":38.2},
{"t":2008.941,"1ow":0,"2wt":0,"3gv":2.6,"4dv":47.6,"5bs":49.8},
{"t":2008.978,"1ow":0,"2wt":0,"3gv":1.9,"4dv":47.5,"5bs":50.6},
{"t":2009.011,"1ow":97,"2wt":1,"3gv":0,"4dv":1.2,"5bs":0.8},
{"t":2009.058,"1ow":40,"2wt":10,"3gv":20,"4dv":23.8,"5bs":6.2},
{"t":2009.091,"1ow":5,"2wt":7,"3gv":48,"4dv":31,"5bs":9},
{"t":2009.128,"1ow":0,"2wt":5,"3gv":59,"4dv":25.1,"5bs":10.9},
{"t":2009.161,"1ow":0,"2wt":0,"3gv":50,"4dv":36,"5bs":14},
{"t":2009.199,"1ow":0,"2wt":0,"3gv":32,"4dv":51,"5bs":17},
{"t":2009.246,"1ow":0,"2wt":0,"3gv":22.1,"4dv":63.9,"5bs":14},
{"t":2009.293,"1ow":0,"2wt":0,"3gv":13.6,"4dv":67.4,"5bs":19},
{"t":2009.363,"1ow":0,"2wt":0,"3gv":12,"4dv":64.6,"5bs":23.4},
{"t":2009.457,"1ow":0,"2wt":0,"3gv":11.2,"4dv":65.4,"5bs":23.4},
{"t":2009.55,"1ow":0,"2wt":0,"3gv":10.4,"4dv":67,"5bs":22.6},
{"t":2009.644,"1ow":0,"2wt":0,"3gv":9.7,"4dv":70.1,"5bs":20.2},
{"t":2009.691,"1ow":0,"2wt":0,"3gv":9.3,"4dv":72.7,"5bs":18},
{"t":2009.714,"1ow":0,"2wt":0,"3gv":8.9,"4dv":78.6,"5bs":12.5},
{"t":2009.761,"1ow":0,"2wt":0,"3gv":5.8,"4dv":66.2,"5bs":28},
{"t":2009.808,"1ow":0,"2wt":0,"3gv":6,"4dv":69.9,"5bs":24.1},
{"t":2009.855,"1ow":0,"2wt":0,"3gv":6.5,"4dv":71.7,"5bs":21.8},
{"t":2009.902,"1ow":0,"2wt":0,"3gv":6.5,"4dv":64.7,"5bs":28.8},
{"t":2009.926,"1ow":0,"2wt":0,"3gv":10,"4dv":65,"5bs":25},
{"t":2009.963,"1ow":25,"2wt":0,"3gv":5,"4dv":52,"5bs":18},
{"t":2010.029,"1ow":44,"2wt":1,"3gv":10,"4dv":41.9,"5bs":3.1},
{"t":2010.057,"1ow":0,"2wt":0,"3gv":30,"4dv":55,"5bs":15},
{"t":2010.076,"1ow":0,"2wt":0,"3gv":17,"4dv":62.8,"5bs":20.2},
{"t":2010.113,"1ow":0,"2wt":2,"3gv":40.4,"4dv":40.6,"5bs":17},
{"t":2010.16,"1ow":1,"2wt":11,"3gv":46,"4dv":29,"5bs":13},
{"t":2010.192,"1ow":2,"2wt":17.8,"3gv":46.2,"4dv":24,"5bs":10},
{"t":2010.216,"1ow":1,"2wt":14,"3gv":55.4,"4dv":21.6,"5bs":8},
{"t":2010.254,"1ow":0,"2wt":8,"3gv":57.7,"4dv":24.9,"5bs":9.4},
{"t":2010.3,"1ow":0,"2wt":0,"3gv":50,"4dv":38,"5bs":12},
{"t":2010.347,"1ow":0,"2wt":0,"3gv":35,"4dv":49.4,"5bs":15.6},
{"t":2010.394,"1ow":0,"2wt":0,"3gv":25.2,"4dv":56.8,"5bs":18},
{"t":2010.465,"1ow":0,"2wt":0,"3gv":19,"4dv":61.5,"5bs":19.5},
{"t":2010.535,"1ow":0,"2wt":0,"3gv":14.3,"4dv":65.5,"5bs":20.2},
{"t":2010.605,"1ow":0,"2wt":0,"3gv":11.2,"4dv":66.2,"5bs":22.6},
{"t":2010.676,"1ow":0,"2wt":0,"3gv":9.7,"4dv":67.3,"5bs":23},
{"t":2010.746,"1ow":0,"2wt":0,"3gv":8.1,"4dv":67,"5bs":24.9},
{"t":2010.793,"1ow":0,"2wt":0,"3gv":7.3,"4dv":77.1,"5bs":15.6},
{"t":2010.84,"1ow":0,"2wt":0,"3gv":7,"4dv":68.9,"5bs":24.1},
{"t":2010.887,"1ow":0,"2wt":0,"3gv":8.9,"4dv":74.7,"5bs":16.4},
{"t":2010.91,"1ow":0,"2wt":0,"3gv":15,"4dv":68,"5bs":17},
{"t":2010.934,"1ow":12,"2wt":8,"3gv":7.6,"4dv":55.4,"5bs":17},
{"t":2010.957,"1ow":16,"2wt":3,"3gv":11,"4dv":54,"5bs":16},
{"t":2011.004,"1ow":2,"2wt":3,"3gv":21.8,"4dv":60.7,"5bs":12.5},
{"t":2011.051,"1ow":0,"2wt":2,"3gv":42.7,"4dv":45.3,"5bs":10},
{"t":2011.098,"1ow":0,"2wt":0,"3gv":38,"4dv":51.1,"5bs":10.9},
{"t":2011.192,"1ow":0,"2wt":0,"3gv":42.4,"4dv":46.7,"5bs":10.9},
{"t":2011.3,"1ow":0,"2wt":0,"3gv":51,"4dv":37.7,"5bs":11.3},
{"t":2011.38,"1ow":0,"2wt":0,"3gv":42.4,"4dv":45.9,"5bs":11.7},
{"t":2011.474,"1ow":0,"2wt":0,"3gv":33,"4dv":52.5,"5bs":14.5},
{"t":2011.532,"1ow":0,"2wt":0,"3gv":23.7,"4dv":59.3,"5bs":17},
{"t":2011.602,"1ow":0,"2wt":0,"3gv":16.7,"4dv":63.8,"5bs":19.5},
{"t":2011.672,"1ow":0,"2wt":0,"3gv":9.7,"4dv":68.5,"5bs":21.8},
{"t":2011.719,"1ow":0,"2wt":0,"3gv":9.7,"4dv":66.9,"5bs":23.4},
{"t":2011.766,"1ow":0,"2wt":0,"3gv":11.2,"4dv":68.6,"5bs":20.2},
{"t":2011.813,"1ow":0,"2wt":0,"3gv":8.9,"4dv":70.1,"5bs":21},
{"t":2011.836,"1ow":0,"2wt":0,"3gv":8.9,"4dv":69.1,"5bs":22},
{"t":2013.217,"1ow":0,"2wt":0,"3gv":8.1,"4dv":51.4,"5bs":40.5},
{"t":2013.287,"1ow":0,"2wt":0,"3gv":6,"4dv":55.8,"5bs":38.2},
{"t":2013.358,"1ow":0,"2wt":0,"3gv":5,"4dv":59.2,"5bs":35.8},
{"t":2013.404,"1ow":0,"2wt":0,"3gv":5,"4dv":61.5,"5bs":33.5},
{"t":2013.451,"1ow":0,"2wt":0,"3gv":4.5,"4dv":59.7,"5bs":35.8},
{"t":2013.498,"1ow":0,"2wt":0,"3gv":4.2,"4dv":56.9,"5bs":38.9},
{"t":2013.545,"1ow":0,"2wt":0,"3gv":4,"4dv":57.8,"5bs":38.2},
{"t":2013.592,"1ow":0,"2wt":0,"3gv":3.4,"4dv":54.5,"5bs":42.1},
{"t":2013.625,"1ow":0,"2wt":0,"3gv":3.4,"4dv":51.4,"5bs":45.2},
{"t":2013.662,"1ow":0,"2wt":0,"3gv":3,"4dv":56.5,"5bs":40.5},
{"t":2013.709,"1ow":0,"2wt":0,"3gv":2.6,"4dv":58.5,"5bs":38.9},
{"t":2013.756,"1ow":0,"2wt":0,"3gv":2.6,"4dv":57.7,"5bs":39.7},
{"t":2013.802,"1ow":0,"2wt":0,"3gv":2,"4dv":59.8,"5bs":38.2},
{"t":2013.849,"1ow":0,"2wt":0,"3gv":2,"4dv":58.3,"5bs":39.7},
{"t":2013.896,"1ow":0,"2wt":0,"3gv":1.9,"4dv":62.3,"5bs":35.8},
{"t":2013.929,"1ow":0,"2wt":0,"3gv":1.9,"4dv":59.2,"5bs":38.9},
{"t":2013.966,"1ow":0,"2wt":0,"3gv":1.9,"4dv":63.8,"5bs":34.3},
{"t":2013.999,"1ow":0,"2wt":0,"3gv":1.9,"4dv":52.9,"5bs":45.2},
{"t":2014.037,"1ow":0,"2wt":0,"3gv":1.9,"4dv":57.6,"5bs":40.5},
{"t":2014.083,"1ow":0,"2wt":0,"3gv":1.1,"4dv":70.9,"5bs":28},
{"t":2014.116,"1ow":0,"2wt":0,"3gv":5,"4dv":62.3,"5bs":32.7},
{"t":2014.154,"1ow":22,"2wt":0,"3gv":9.5,"4dv":43.6,"5bs":24.9},
{"t":2014.186,"1ow":27,"2wt":0,"3gv":18,"4dv":44.9,"5bs":10.1},
{"t":2014.224,"1ow":0,"2wt":0,"3gv":52.5,"4dv":22.6,"5bs":24.9},
{"t":2014.271,"1ow":0,"2wt":0,"3gv":34.6,"4dv":42,"5bs":23.4},
{"t":2014.317,"1ow":0,"2wt":0,"3gv":22.1,"4dv":52.2,"5bs":25.7},
{"t":2014.388,"1ow":0,"2wt":0,"3gv":12.8,"4dv":59.9,"5bs":27.3},
{"t":2014.458,"1ow":0,"2wt":0,"3gv":9,"4dv":62.2,"5bs":28.8},
{"t":2014.528,"1ow":0,"2wt":0,"3gv":7.3,"4dv":61.9,"5bs":30.8},
{"t":2014.598,"1ow":0,"2wt":0,"3gv":6.5,"4dv":60.8,"5bs":32.7},
{"t":2014.668,"1ow":0,"2wt":0,"3gv":5.5,"4dv":60.6,"5bs":33.9},
{"t":2014.739,"1ow":0,"2wt":0,"3gv":5,"4dv":56.8,"5bs":38.2},
{"t":2014.785,"1ow":0,"2wt":0,"3gv":4.5,"4dv":56.6,"5bs":38.9},
{"t":2014.832,"1ow":0,"2wt":0,"3gv":4.2,"4dv":59.2,"5bs":36.6},
{"t":2014.879,"1ow":0,"2wt":0,"3gv":2.6,"4dv":55.3,"5bs":42.1},
{"t":2014.926,"1ow":0,"2wt":0,"3gv":2.6,"4dv":53.8,"5bs":43.6},
{"t":2014.973,"1ow":0,"2wt":0,"3gv":3.4,"4dv":46.8,"5bs":49.8},
{"t":2015.019,"1ow":0,"2wt":0,"3gv":15.9,"4dv":44.4,"5bs":39.7},
{"t":2015.076,"1ow":0,"2wt":0,"3gv":37.7,"4dv":27.3,"5bs":35},
{"t":2015.113,"1ow":0,"2wt":0,"3gv":28,"4dv":41.6,"5bs":30.4},
{"t":2015.16,"1ow":0,"2wt":0,"3gv":20.6,"4dv":43.6,"5bs":35.8},
{"t":2015.207,"1ow":0,"2wt":0,"3gv":11.2,"4dv":49.9,"5bs":38.9},
{"t":2015.254,"1ow":0,"2wt":0,"3gv":9,"4dv":53.6,"5bs":37.4},
{"t":2015.3,"1ow":0,"2wt":0,"3gv":8.1,"4dv":51.4,"5bs":40.5},
{"t":2015.347,"1ow":0,"2wt":0,"3gv":7.5,"4dv":55.1,"5bs":37.4},
{"t":2015.394,"1ow":0,"2wt":0,"3gv":7,"4dv":58.7,"5bs":34.3},
{"t":2015.441,"1ow":0,"2wt":0,"3gv":6.5,"4dv":54.6,"5bs":38.9},
{"t":2015.488,"1ow":0,"2wt":0,"3gv":5.8,"4dv":57.6,"5bs":36.6},
{"t":2015.535,"1ow":0,"2wt":0,"3gv":5,"4dv":61.5,"5bs":33.5},
{"t":2015.581,"1ow":0,"2wt":0,"3gv":5,"4dv":56.1,"5bs":38.9},
{"t":2015.628,"1ow":0,"2wt":0,"3gv":4.5,"4dv":55.8,"5bs":39.7},
{"t":2015.675,"1ow":0,"2wt":0,"3gv":4.2,"4dv":58.4,"5bs":37.4},
{"t":2015.722,"1ow":0,"2wt":0,"3gv":4.2,"4dv":54.5,"5bs":41.3},
{"t":2015.769,"1ow":0,"2wt":0,"3gv":3.8,"4dv":57.3,"5bs":38.9},
{"t":2015.815,"1ow":0,"2wt":0,"3gv":3.4,"4dv":54.5,"5bs":42.1},
{"t":2015.862,"1ow":0,"2wt":0,"3gv":3.4,"4dv":59.2,"5bs":37.4},
{"t":2015.909,"1ow":0,"2wt":0,"3gv":3,"4dv":56.5,"5bs":40.5},
{"t":2015.956,"1ow":0,"2wt":0,"3gv":2.6,"4dv":53.8,"5bs":43.6},
{"t":2016.003,"1ow":0,"2wt":0,"3gv":3.4,"4dv":60.8,"5bs":35.8},
{"t":2016.036,"1ow":0,"2wt":0,"3gv":10,"4dv":50,"5bs":40},
{"t":2016.064,"1ow":30,"2wt":5,"3gv":5,"4dv":35,"5bs":25},
{"t":2016.096,"1ow":56,"2wt":6,"3gv":2,"4dv":31.3,"5bs":4.7},
{"t":2016.129,"1ow":0,"2wt":2,"3gv":34,"4dv":39,"5bs":25},
{"t":2016.167,"1ow":25,"2wt":5,"3gv":15,"4dv":33.2,"5bs":21.8},
{"t":2016.204,"1ow":72,"2wt":1,"3gv":4,"4dv":20.7,"5bs":2.3},
{"t":2016.242,"1ow":0,"2wt":5,"3gv":50,"4dv":27,"5bs":18},
{"t":2016.284,"1ow":0,"2wt":0,"3gv":45,"4dv":35.5,"5bs":19.5},
{"t":2016.331,"1ow":0,"2wt":0,"3gv":41,"4dv":46.5,"5bs":12.5},
{"t":2016.368,"1ow":28,"2wt":0,"3gv":15,"4dv":40,"5bs":17},
{"t":2016.41,"1ow":0,"2wt":0,"3gv":41,"4dv":40,"5bs":19},
{"t":2016.448,"1ow":30,"2wt":0,"3gv":20,"4dv":32,"5bs":18},
{"t":2016.471,"1ow":66,"2wt":0,"3gv":1,"4dv":21.3,"5bs":11.7},
{"t":2016.504,"1ow":0,"2wt":0,"3gv":40,"4dv":38,"5bs":22},
{"t":2016.565,"1ow":0,"2wt":0,"3gv":37.7,"4dv":38.9,"5bs":23.4},
{"t":2016.626,"1ow":0,"2wt":0,"3gv":39,"4dv":38.5,"5bs":22.5},
{"t":2016.682,"1ow":9,"2wt":0,"3gv":32,"4dv":34,"5bs":25},
{"t":2016.729,"1ow":15,"2wt":7,"3gv":24,"4dv":29.5,"5bs":24.5},
{"t":2016.762,"1ow":20,"2wt":8,"3gv":25,"4dv":24.4,"5bs":22.6},
{"t":2016.799,"1ow":5,"2wt":5,"3gv":30,"4dv":38.2,"5bs":21.8},
{"t":2016.823,"1ow":0,"2wt":0,"3gv":34.6,"4dv":43.9,"5bs":21.5},
{"t":2016.869,"1ow":0,"2wt":0,"3gv":22,"4dv":58.5,"5bs":19.5},
{"t":2016.94,"1ow":0,"2wt":0,"3gv":18,"4dv":63.3,"5bs":18.7},
{"t":2017.0,"1ow":0,"2wt":0,"3gv":15,"4dv":71,"5bs":14},
{"t":2017.056,"1ow":86,"2wt":0,"3gv":1,"4dv":9.9,"5bs":3.1},
{"t":2017.103,"1ow":15,"2wt":5,"3gv":35,"4dv":36,"5bs":9},
{"t":2017.127,"1ow":0,"2wt":0,"3gv":51.7,"4dv":37.4,"5bs":10.9},
{"t":2017.174,"1ow":0,"2wt":0,"3gv":40.8,"4dv":47.2,"5bs":12},
{"t":2017.244,"1ow":0,"2wt":0,"3gv":28.3,"4dv":53.8,"5bs":17.9},
{"t":2017.314,"1ow":0,"2wt":0,"3gv":19.8,"4dv":61.5,"5bs":18.7},
{"t":2017.385,"1ow":0,"2wt":0,"3gv":18.2,"4dv":63.1,"5bs":18.7},
{"t":2017.455,"1ow":0,"2wt":0,"3gv":19,"4dv":61.5,"5bs":19.5},
{"t":2017.525,"1ow":0,"2wt":0,"3gv":15.9,"4dv":66.2,"5bs":17.9},
{"t":2017.596,"1ow":0,"2wt":0,"3gv":14.3,"4dv":63.1,"5bs":22.6},
{"t":2017.666,"1ow":0,"2wt":0,"3gv":12,"4dv":66.2,"5bs":21.8},
{"t":2017.736,"1ow":0,"2wt":0,"3gv":10.4,"4dv":69.4,"5bs":20.2},
{"t":2017.807,"1ow":0,"2wt":0,"3gv":8.9,"4dv":73.2,"5bs":17.9},
{"t":2017.854,"1ow":0,"2wt":0,"3gv":7.8,"4dv":75.1,"5bs":17.1},
{"t":2017.901,"1ow":0,"2wt":0,"3gv":6.5,"4dv":69.4,"5bs":24.1},
{"t":2017.947,"1ow":0,"2wt":0,"3gv":5.5,"4dv":68,"5bs":26.5},
{"t":2017.985,"1ow":0,"2wt":0,"3gv":5,"4dv":62.3,"5bs":32.7},
{"t":2018.018,"1ow":0,"2wt":0,"3gv":5,"4dv":72.4,"5bs":22.6},
{"t":2018.065,"1ow":0,"2wt":0,"3gv":5.5,"4dv":74.3,"5bs":20.2},
{"t":2018.112,"1ow":0,"2wt":0,"3gv":5.8,"4dv":65.4,"5bs":28.8},
{"t":2018.159,"1ow":0,"2wt":0,"3gv":6.5,"4dv":76.4,"5bs":17.1},
{"t":2018.191,"1ow":2,"2wt":8,"3gv":23,"4dv":53,"5bs":14},
{"t":2018.229,"1ow":0,"2wt":2,"3gv":53,"4dv":36.4,"5bs":8.6},
{"t":2018.243,"1ow":0,"2wt":0,"3gv":57.9,"4dv":32.1,"5bs":10},
{"t":2018.299,"1ow":0,"2wt":0,"3gv":31.5,"4dv":49.8,"5bs":18.7},
{"t":2018.37,"1ow":0,"2wt":0,"3gv":17.4,"4dv":60.8,"5bs":21.8},
{"t":2018.44,"1ow":0,"2wt":0,"3gv":11.2,"4dv":68.6,"5bs":20.2},
{"t":2018.51,"1ow":0,"2wt":0,"3gv":8.9,"4dv":70.1,"5bs":21},
{"t":2018.604,"1ow":0,"2wt":0,"3gv":8.1,"4dv":68.5,"5bs":23.4},
{"t":2018.698,"1ow":0,"2wt":0,"3gv":6.5,"4dv":67.8,"5bs":25.7},
{"t":2018.792,"1ow":0,"2wt":0,"3gv":5.8,"4dv":70.1,"5bs":24.1},
{"t":2018.862,"1ow":0,"2wt":0,"3gv":4.5,"4dv":67.5,"5bs":28},
{"t":2018.909,"1ow":0,"2wt":0,"3gv":4,"4dv":63.3,"5bs":32.7},
{"t":2018.956,"1ow":0,"2wt":0,"3gv":3.4,"4dv":57.7,"5bs":38.9},
{"t":2019.003,"1ow":0,"2wt":0,"3gv":6.5,"4dv":66.2,"5bs":27.3},
{"t":2019.064,"1ow":0,"2wt":0,"3gv":10,"4dv":61,"5bs":29},
{"t":2019.12,"1ow":44,"2wt":0,"3gv":6,"4dv":37.5,"5bs":12.5},
{"t":2019.167,"1ow":0,"2wt":3,"3gv":39.4,"4dv":32.7,"5bs":24.9},
{"t":2019.2,"1ow":0,"2wt":2,"3gv":57.5,"4dv":22.6,"5bs":17.9},
{"t":2019.228,"1ow":15,"2wt":5,"3gv":35,"4dv":25,"5bs":20},
{"t":2019.27,"1ow":38,"2wt":7.5,"3gv":23.5,"4dv":21.6,"5bs":9.4},
{"t":2019.308,"1ow":8,"2wt":7,"3gv":49.2,"4dv":21.8,"5bs":14},
{"t":2019.355,"1ow":1,"2wt":4,"3gv":56,"4dv":23,"5bs":16},
{"t":2019.402,"1ow":0,"2wt":2,"3gv":55.9,"4dv":25.3,"5bs":16.8},
{"t":2019.472,"1ow":0,"2wt":0,"3gv":48.6,"4dv":34.3,"5bs":17.1},
{"t":2019.542,"1ow":0,"2wt":0,"3gv":37.7,"4dv":43.6,"5bs":18.7},
{"t":2019.613,"1ow":0,"2wt":0,"3gv":26.8,"4dv":55.3,"5bs":17.9},
{"t":2019.683,"1ow":0,"2wt":0,"3gv":19,"4dv":60.8,"5bs":20.2},
{"t":2019.754,"1ow":0,"2wt":0,"3gv":14.3,"4dv":63.9,"5bs":21.8},
{"t":2019.824,"1ow":0,"2wt":1,"3gv":11,"4dv":67.8,"5bs":20.2},
{"t":2019.894,"1ow":0,"2wt":0,"3gv":8.9,"4dv":71.6,"5bs":19.5},
{"t":2019.941,"1ow":0,"2wt":0,"3gv":6.5,"4dv":74.5,"5bs":19},
{"t":2019.978,"1ow":0,"2wt":0,"3gv":5.5,"4dv":81.3,"5bs":13.2},
{"t":2020.011,"1ow":0,"2wt":0,"3gv":3.4,"4dv":73.2,"5bs":23.4},
{"t":2020.082,"1ow":0,"2wt":0,"3gv":3.4,"4dv":66.2,"5bs":30.4},
{"t":2020.152,"1ow":0,"2wt":0,"3gv":2.6,"4dv":60.8,"5bs":36.6},
{"t":2020.2,"1ow":19,"2wt":1,"3gv":22.4,"4dv":32.7,"5bs":24.9},
{"t":2020.237,"1ow":0,"2wt":0,"3gv":41,"4dv":35.6,"5bs":23.4},
{"t":2020.29,"1ow":0,"2wt":0,"3gv":42.4,"4dv":35,"5bs":22.6}
]},
"transform":[{"fold":["1ow","2wt","3gv","4dv","5bs"],"as":["k","v"]}],
"mark":{"type":"area","interpolate":"linear"},
"encoding":{
"x":{"field":"t","type":"quantitative","scale":{"domain":[1987.385,2020.292],"nice":false,"zero":false},
"axis":{"title":null,"values":[1988,1989,1990,1991,1992,1993,1994,1995,1996,1997,1998,1999,2000,2001,2002,2003,2004,2005,2006,2007,2008,2009,2010,2011,2012,2013,2014,2015,2016,2017,2018,2019,2020]}},
"y":{"field":"v","type":"quantitative","stack":"zero","scale":{"domain":[0,100],"nice":false},
"axis":{"title":null,"values":[0,10,20,30,40,50,60,70,80,90,100]}},
"color":{"field":"k","type":"nominal","scale":{"domain":["5bs","4dv","3gv","2wt","1ow","6lq"],"range":["#a08364","#efe6c8","#9cca7e","#5fe3fd","#686ccc","#f6f1e5"]},
"legend":{"title":null,"orient":"none","legendX":2352,"legendY":28,"symbolType":"M-1,-0.84H1V0.84H-1Z","symbolSize":361,"symbolStrokeWidth":0,"symbolOpacity":1,"labelFontSize":14,"labelColor":"#666666","labelFont":"Liberation Sans","labelOffset":7,"rowPadding":9.2,
"labelExpr":"datum.label == '5bs' ? 'bare soil' : datum.label == '4dv' ? 'dry vegetation' : datum.label == '3gv' ? 'green vegetation' : datum.label == '2wt' ? 'wet' : datum.label == '1ow' ? 'open water' : 'low data quality'"}},
"order":{"field":"k","type":"nominal","sort":"ascending"}
}},
{"data":{"values":[{}]},"mark":{"type":"rule","color":"#8a7763","strokeWidth":1.3},"encoding":{"y":{"datum":100,"type":"quantitative","axis":{"title":null}}}},
{"data":{"values":[{"k":"6lq","start":2011.836,"end":2013.217}]},
"mark":{"type":"rect","stroke":"#999999","strokeWidth":1.5},
"encoding":{"x":{"field":"start","type":"quantitative","axis":{"title":null}},"x2":{"field":"end"},"y":{"datum":0,"type":"quantitative","axis":{"title":null}},"y2":{"datum":100},
"color":{"field":"k","type":"nominal","scale":{"domain":["5bs","4dv","3gv","2wt","1ow","6lq"],"range":["#a08364","#efe6c8","#9cca7e","#5fe3fd","#686ccc","#f6f1e5"]}}}},
{"data":{"values":[{}]},"mark":{"type":"text","text":"Download this information in .CSV format","font":"DejaVu Sans","fontSize":17.5,"color":"#4e6480","align":"center","baseline":"middle"},
"encoding":{"x":{"datum":2004.422,"type":"quantitative","axis":{"title":null}},"y":{"datum":-26.9,"type":"quantitative","axis":{"title":null}}}},
{"data":{"values":[{}]},"mark":{"type":"rule","color":"#4e6480","strokeWidth":1.2},
"encoding":{"x":{"datum":2001.862,"type":"quantitative","axis":{"title":null}},"x2":{"datum":2006.983},"y":{"datum":-30.7,"type":"quantitative","axis":{"title":null}}}},
{"data":{"values":[{}]},"mark":{"type":"rect","color":"#7e7d56","cornerRadius":4},
"encoding":{"x":{"datum":2003.677,"type":"quantitative","axis":{"title":null}},"x2":{"datum":2004.507},"y":{"datum":-38.3,"type":"quantitative","axis":{"title":null}},"y2":{"datum":-51.9}}},
{"data":{"values":[{}]},"mark":{"type":"rect","color":"#7e7d56","cornerRadius":4},
"encoding":{"x":{"datum":2004.633,"type":"quantitative","axis":{"title":null}},"x2":{"datum":2005.463},"y":{"datum":-38.3,"type":"quantitative","axis":{"title":null}},"y2":{"datum":-51.9}}},
{"data":{"values":[{}]},"mark":{"type":"text","text":"<","font":"DejaVu Sans","fontSize":16,"fontWeight":"bold","color":"white","align":"center","baseline":"middle"},
"encoding":{"x":{"datum":2004.092,"type":"quantitative","axis":{"title":null}},"y":{"datum":-45.1,"type":"quantitative","axis":{"title":null}}}},
{"data":{"values":[{}]},"mark":{"type":"text","text":">","font":"DejaVu Sans","fontSize":16,"fontWeight":"bold","color":"white","align":"center","baseline":"middle"},
"encoding":{"x":{"datum":2005.048,"type":"quantitative","axis":{"title":null}},"y":{"datum":-45.1,"type":"quantitative","axis":{"title":null}}}}
]
}
